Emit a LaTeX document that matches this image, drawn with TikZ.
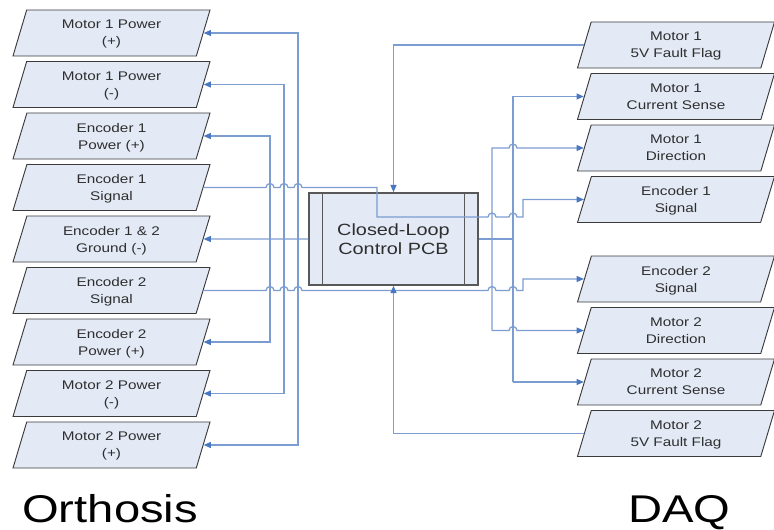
\documentclass[tikz,border=0pt]{standalone}
\usepackage{fontspec}
\setmainfont[FakeStretch=1.22]{Liberation Sans}
\usetikzlibrary{arrows.meta,shapes.geometric,calc}
\definecolor{padfill}{HTML}{E3EAF6}
\definecolor{padline}{HTML}{3A3A3A}
\definecolor{wireblue}{HTML}{7C9DD1}
\definecolor{tipblue}{HTML}{4A78C0}
\definecolor{inktext}{HTML}{2E2E2E}
\tikzset{
  pad/.style={trapezium, trapezium left angle=62, trapezium right angle=118, trapezium stretches body,
    draw=padline, fill=padfill, line width=0.7pt, minimum width=147.75pt, minimum height=34.5pt,
    inner sep=0pt, text depth=0pt, align=center, text=inktext, font=\fontsize{9.4}{12.8}\selectfont},
  pcbbox/.style={draw=padline!85, fill=padfill, line width=1.1pt, minimum width=126.75pt, minimum height=69pt,
    align=center, text=inktext, font=\fontsize{12.2}{14}\selectfont},
  link/.style={draw=wireblue, line width=0.95pt},
  arr/.style={link, -{Triangle[length=5.5pt, width=4.5pt, color=tipblue]}},
  arr2/.style={link, {Triangle[length=5.5pt, width=4.5pt, color=tipblue]}-{Triangle[length=5.5pt, width=4.5pt, color=tipblue]}},
  side/.style={font=\fontsize{29}{30}\selectfont, anchor=base west, inner sep=0pt, text=black},
}
% bump where one wire jumps over another
\newcommand{\hop}[1]{-- ([xshift=-3pt]#1) arc[start angle=180, end angle=360, radius=4]}

\begin{document}
\begin{tikzpicture}[x=0.75pt, y=-0.75pt]
    \useasboundingbox (0,0) rectangle (774,529);
    % orthosis side
    \foreach \n/\y/\t in {1/33/Motor 1 Power\\(+), 2/84.5/Motor 1 Power\\(-), 3/136/Encoder 1\\Power (+),
        4/187.5/Encoder 1\\Signal, 5/239/Encoder 1 \& 2\\Ground (-), 6/290.5/Encoder 2\\Signal,
        7/342/Encoder 2\\Power (+), 8/393.5/Motor 2 Power\\(-), 9/445/Motor 2 Power\\(+)}
      \node[pad] (l\n) at (111.5,\y) {\t};
    % daq side
    \foreach \n/\y/\t in {1/45/Motor 1\\5V Fault Flag, 2/96.5/Motor 1\\Current Sense, 3/148/Motor 1\\Direction,
        4/199.5/Encoder 1\\Signal, 5/279/Encoder 2\\Signal, 6/330.5/Motor 2\\Direction,
        7/382/Motor 2\\Current Sense, 8/433.5/Motor 2\\5V Fault Flag}
      \node[pad] (r\n) at (676,\y) {\t};
    % board
    \node[pcbbox] (pcb) at (393.5,239) {Closed-Loop\\Control PCB};
    \draw[draw=padline!85, line width=1.1pt] ([xshift=10.5pt]pcb.north west) -- ([xshift=10.5pt]pcb.south west)
      ([xshift=-10.5pt]pcb.north east) -- ([xshift=-10.5pt]pcb.south east);
    % wire columns
    \coordinate (busA) at (270,0);
    \coordinate (busB) at (284,0);
    \coordinate (busC) at (298,0);
    \coordinate (busD) at (492,0);
    \coordinate (busE) at (513,0);
    \coordinate (jogL) at (377,217);
    \coordinate (jogR) at (523,0);
    % power straps
    \foreach \a/\b/\c in {l1/l9/busC, l2/l8/busB, l3/l7/busA}
      \draw[arr2] (\a.east) -- (\a.east -| \c) -- (\b.east -| \c) -- (\b.east);
    % encoder signals
    \draw[arr] (l4.east) \hop{busA |- l4.east} \hop{busB |- l4.east} \hop{busC |- l4.east}
      -- (jogL |- l4.east) -- (jogL) \hop{busD |- jogL} \hop{busE |- jogL}
      -- (jogR |- jogL) -- (jogR |- r4.west) -- (r4.west);
    \draw[arr] (l6.east) \hop{busA |- l6.east} \hop{busB |- l6.east} \hop{busC |- l6.east}
      \hop{busD |- l6.east} \hop{busE |- l6.east}
      -- (jogR |- l6.east) -- (jogR |- r5.west) -- (r5.west);
    % ground
    \draw[arr] (pcb.west) -- (l5.east);
    % fault flags
    \draw[arr] (r1.west) -- (r1.west -| pcb.north) -- (pcb.north);
    \draw[arr] (r8.west) -- (r8.west -| pcb.south) -- (pcb.south);
    % outputs to daq
    \draw[link] (pcb.east) -- (busE |- pcb.east);
    \draw[arr] (busE |- r7.west) -- (busE |- r2.west) -- (r2.west);
    \draw[arr] (busE |- r7.west) -- (r7.west);
    \draw[arr] (busD |- r6.west) -- (busD |- r3.west) \hop{busE |- r3.west} -- (r3.west);
    \draw[arr] (busD |- r6.west) \hop{busE |- r6.west} -- (r6.west);
    % headings
    \node[side] (orth) at (22,522) {Orthosis};
    \node[side] (daq) at (628,522) {DAQ};
  \end{tikzpicture}
\end{document}
